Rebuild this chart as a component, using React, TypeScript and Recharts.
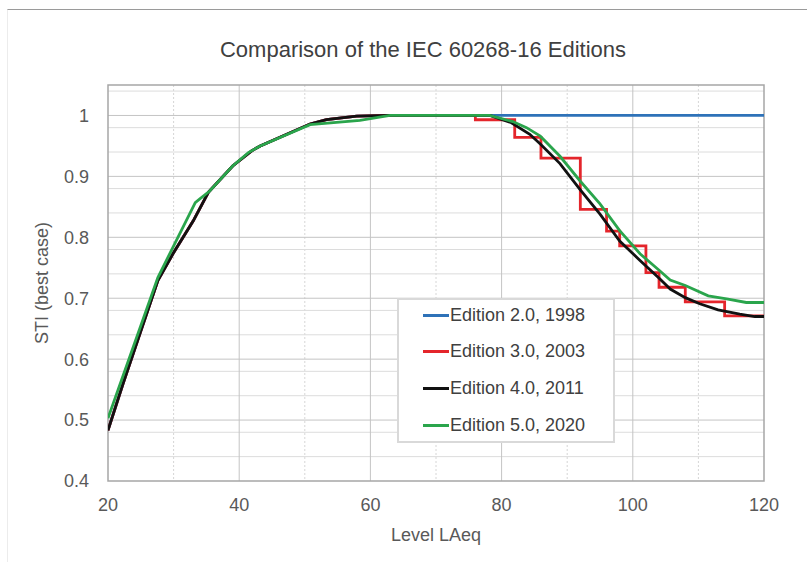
import { LineChart, Line, XAxis, YAxis, CartesianGrid, Legend, ReferenceArea } from "recharts";

const FONT = '"Liberation Sans", Arial, sans-serif';

// x axis: sound level LAeq, y axis: STI (best case)
const levelTicks = [20, 40, 60, 80, 100, 120];
const majorLevelLines = [40, 60, 80, 100];
const minorLevelLines = [30, 50, 70, 90, 110];
const stiTicks = [0.4, 0.5, 0.6, 0.7, 0.8, 0.9, 1];
const majorStiLines = [0.5, 0.6, 0.7, 0.8, 0.9, 1];
const minorStiLines = [
  0.42, 0.44, 0.46, 0.48, 0.52, 0.54, 0.56, 0.58, 0.62, 0.64, 0.66, 0.68,
  0.72, 0.74, 0.76, 0.78, 0.82, 0.84, 0.86, 0.88, 0.92, 0.94, 0.96, 0.98,
  1.02, 1.04,
];

// low-level rise, shared by editions 2.0 - 4.0
const risingLevel = [20, 22.3, 27.6, 29.9, 33, 35.3, 39, 41.9, 43.2, 50.8, 53.3, 57.9, 63];
const risingSti = [0.483, 0.56, 0.729, 0.773, 0.827, 0.874, 0.917, 0.942, 0.95, 0.986, 0.993, 0.999, 1];

// Edition 2.0, 1998
const ed2Level = [...risingLevel, 120];
const ed2Sti = [...risingSti, 1];

// Edition 3.0, 2003 (stepped table)
const ed3Level = [
  ...risingLevel,
  76, 76, 82, 82, 86, 86, 92, 92, 96, 96, 98, 98, 102, 102, 104, 104, 108, 108, 114, 114, 120,
];
const ed3Sti = [
  ...risingSti,
  1, 0.993, 0.993, 0.964, 0.964, 0.93, 0.93, 0.846, 0.846, 0.81, 0.81, 0.786, 0.786,
  0.742, 0.742, 0.718, 0.718, 0.694, 0.694, 0.671, 0.671,
];

// Edition 4.0, 2011
const ed4Level = [
  ...risingLevel,
  78.2, 81.5, 84.3, 85.9, 88.9, 92, 95, 98, 101.1, 104.1, 105.7, 108, 110.2, 113, 116.3, 118.6, 120,
];
const ed4Sti = [
  ...risingSti,
  1, 0.988, 0.969, 0.953, 0.921, 0.878, 0.838, 0.794, 0.762, 0.732, 0.715, 0.701, 0.691, 0.681, 0.674, 0.67, 0.67,
];

// Edition 5.0, 2020
const ed5Level = [
  20, 27.6, 33.3, 34, 35.5, 39, 41.4, 43.2, 50.8, 58.4, 63,
  78.2, 81.7, 83.8, 85.9, 88.9, 92, 95, 98, 101.1, 104.1, 105.7, 108, 111.5, 114.3, 117.3, 120,
];
const ed5Sti = [
  0.503, 0.734, 0.857, 0.863, 0.876, 0.917, 0.939, 0.95, 0.985, 0.992, 1,
  1, 0.99, 0.98, 0.966, 0.933, 0.892, 0.855, 0.811, 0.773, 0.745, 0.73, 0.721, 0.704, 0.699, 0.693, 0.693,
];

const toPoints = (levels: number[], sti: number[]) => levels.map((x, i) => ({ x, y: sti[i] }));

const series = [
  { name: "Edition 2.0, 1998", color: "#2e72b8", data: toPoints(ed2Level, ed2Sti) },
  { name: "Edition 3.0, 2003", color: "#e4252b", data: toPoints(ed3Level, ed3Sti) },
  { name: "Edition 4.0, 2011", color: "#111111", data: toPoints(ed4Level, ed4Sti) },
  { name: "Edition 5.0, 2020", color: "#2aa54c", data: toPoints(ed5Level, ed5Sti) },
];

function LegendBox({ payload }: { payload?: any[] }) {
  return (
    <div
      style={{
        position: "relative",
        width: 218,
        height: 145,
        boxSizing: "border-box",
        border: "2px solid #d9d9d9",
        background: "#fff",
        fontFamily: FONT,
      }}
    >
      {(payload ?? []).map((entry, i) => (
        <div
          key={entry.value}
          style={{
            position: "absolute",
            left: 24,
            top: 3 + i * 36.7,
            height: 24,
            display: "flex",
            alignItems: "center",
            fontSize: 18,
            color: "#404040",
            whiteSpace: "nowrap",
          }}
        >
          <span style={{ display: "inline-block", width: 26, height: 3, background: entry.color, marginRight: 1 }} />
          {entry.value}
        </div>
      ))}
    </div>
  );
}

export default function App() {
  return (
    <div style={{ position: "absolute", left: 0, top: 0, width: 807, height: 562, background: "#fff", fontFamily: FONT }}>
      <div
        style={{
          position: "absolute",
          left: 7,
          top: 9,
          right: 0,
          bottom: 0,
          borderTop: "1px solid #9a9a9a",
          borderLeft: "1px solid #ececec",
        }}
      />
      <div
        style={{
          position: "absolute",
          left: 0,
          top: 37,
          width: 846,
          textAlign: "center",
          fontSize: 22,
          lineHeight: "26px",
          color: "#404040",
        }}
      >
        Comparison of the IEC 60268-16 Editions
      </div>
      <LineChart width={807} height={562} margin={{ top: 85, right: 43, bottom: 21, left: 38 }}>
        <CartesianGrid horizontal={false} verticalValues={minorLevelLines} stroke="#d6d6d6" strokeDasharray="2 2" />
        <CartesianGrid vertical={false} horizontalValues={minorStiLines} stroke="#dcdcdc" />
        <CartesianGrid horizontalValues={majorStiLines} verticalValues={majorLevelLines} stroke="#c4c4c4" />
        <ReferenceArea x1={20} x2={120} y1={0.4} y2={1.05} fill="none" stroke="#a6a6a6" strokeWidth={1.5} ifOverflow="visible" />
        <XAxis
          type="number"
          dataKey="x"
          domain={[20, 120]}
          ticks={levelTicks}
          allowDataOverflow
          height={60}
          axisLine={false}
          tickLine={false}
          tickSize={6}
          tickMargin={11}
          tick={{ fontSize: 18, fill: "#595959", fontFamily: FONT }}
          label={{ value: "Level LAeq", position: "insideBottom", offset: 0, style: { fontSize: 18, fill: "#595959", fontFamily: FONT } }}
        />
        <YAxis
          type="number"
          domain={[0.4, 1.05]}
          ticks={stiTicks}
          allowDataOverflow
          width={70}
          axisLine={false}
          tickLine={false}
          tickSize={6}
          tickMargin={13}
          tick={{ fontSize: 18, fill: "#595959", fontFamily: FONT }}
          label={{
            value: "STI (best case)",
            angle: -90,
            position: "insideLeft",
            offset: 4,
            style: { fontSize: 18, fill: "#595959", fontFamily: FONT, textAnchor: "middle" },
          }}
        />
        <Legend
          layout="vertical"
          align="center"
          verticalAlign="middle"
          wrapperStyle={{ left: 397, top: 298, width: 218, height: 145 }}
          content={(props: any) => <LegendBox payload={props.payload} />}
        />
        {series.map((s) => (
          <Line
            key={s.name}
            name={s.name}
            data={s.data}
            dataKey="y"
            type="linear"
            stroke={s.color}
            strokeWidth={2.8}
            dot={false}
            activeDot={false}
            isAnimationActive={false}
          />
        ))}
      </LineChart>
    </div>
  );
}
